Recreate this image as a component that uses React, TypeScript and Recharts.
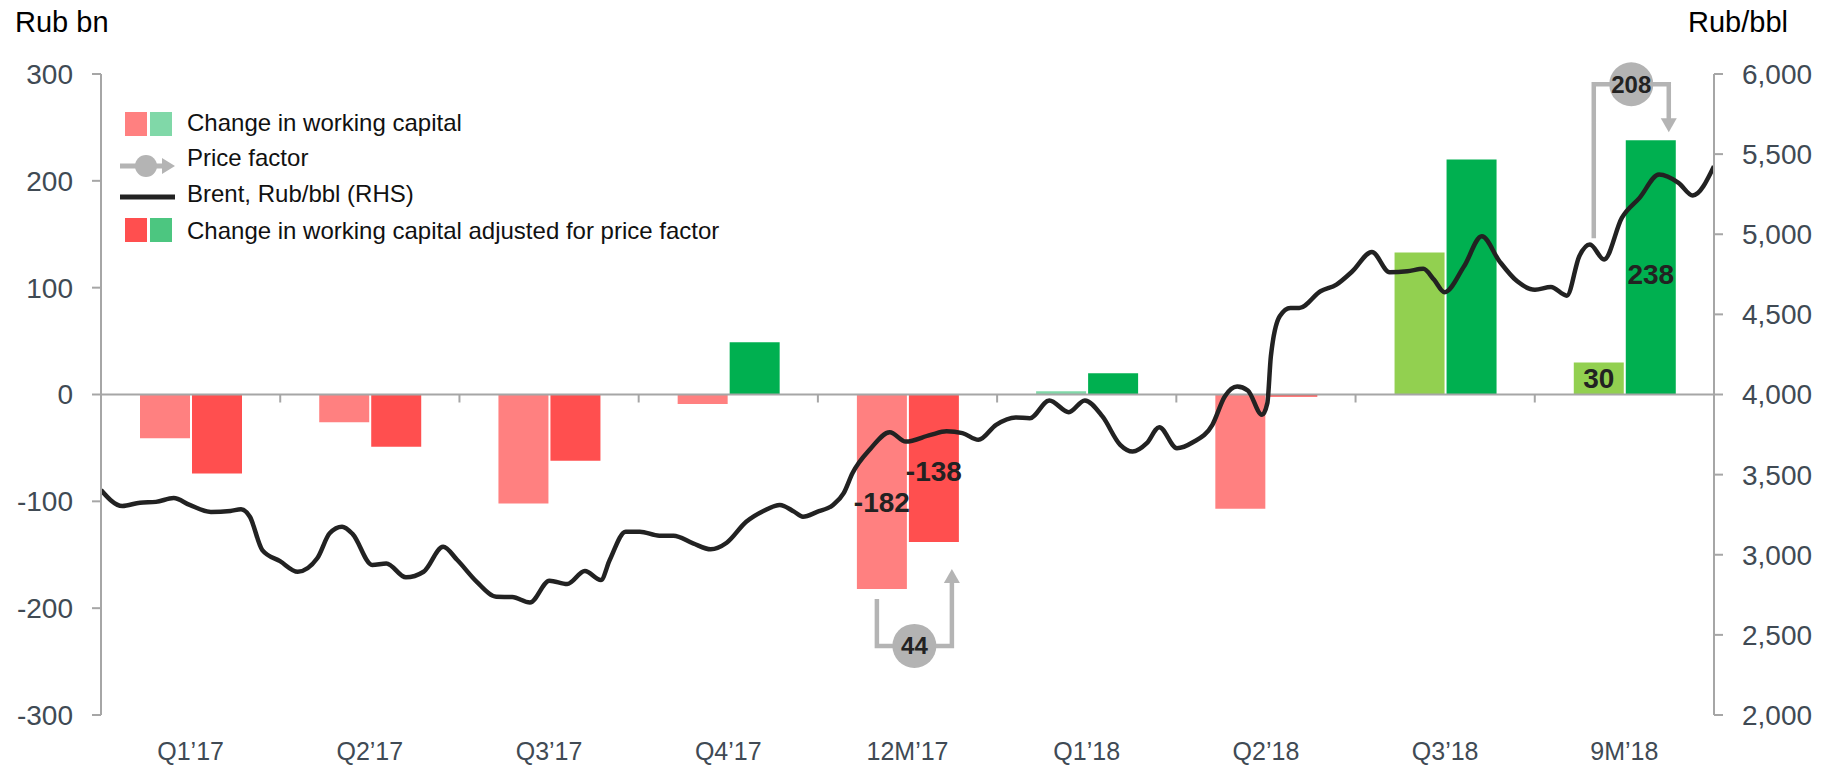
import React from 'react'
import {
  ComposedChart,
  Bar,
  Line,
  XAxis,
  YAxis,
  ReferenceLine,
  Cell,
  LabelList,
} from 'recharts'

// categories + bar series (Rub bn)
const categories = ['Q1’17', 'Q2’17', 'Q3’17', 'Q4’17', '12M’17', 'Q1’18', 'Q2’18', 'Q3’18', '9M’18']
const wcChange = [-41, -26, -102, -9, -182, 3, -107, 133, 30]
const wcAdjusted = [-74, -49, -62, 49, -138, 20, -2, 220, 238]
const priceFactor = [null, null, null, null, 44, null, null, null, 208]
const labelledCats = ['12M’17', '9M’18']

// Brent, Rub/bbl (RHS), week index from start of 2017
const brentWeeks = [
  0, 1.2, 2.2, 3.1, 4.1, 5.0, 6.2, 7.3, 7.9, 8.4,
  9.1, 10.1, 11.1, 12.2, 12.9, 13.6, 14.2, 15.3, 16.1, 17.2,
  18.2, 19.3, 20.1, 21.2, 22.3, 23.2, 24.2, 25.3, 26.3, 27.3,
  28.2, 28.7, 29.6, 30.4, 31.5, 32.3, 33.4, 34.4, 35.3, 36.4,
  37.4, 38.3, 39.1, 39.6, 40.4, 41.3, 41.9, 42.4, 43.4, 44.5,
  45.4, 46.8, 47.7, 48.6, 49.5, 50.5, 51.6, 52.4, 53.5, 54.6,
  55.5, 56.5, 57.5, 58.2, 59.0, 59.7, 60.7, 61.6, 62.7, 63.4,
  64.1, 64.7, 65.5, 65.8, 66.0, 66.5, 67.1, 67.6, 68.8, 69.7,
  70.6, 71.7, 72.7, 73.7, 74.6, 75.2, 75.8, 76.9, 77.9, 78.9,
  79.9, 80.9, 81.8, 82.7, 83.4, 84.0, 84.8, 85.8, 86.8, 87.9,
  89.0, 89.8, 91.0,
]
const brentPrices = [
  3404, 3304, 3325, 3330, 3354, 3311, 3267, 3273, 3284, 3237,
  3029, 2960, 2894, 2978, 3134, 3175, 3129, 2936, 2946, 2859,
  2894, 3050, 2967, 2831, 2738, 2736, 2702, 2838, 2817, 2898,
  2842, 2967, 3144, 3144, 3119, 3119, 3071, 3034, 3075, 3206,
  3275, 3311, 3269, 3237, 3267, 3311, 3384, 3510, 3660, 3765,
  3706, 3748, 3770, 3759, 3717, 3811, 3857, 3852, 3963, 3890,
  3963, 3863, 3686, 3644, 3696, 3796, 3665, 3702, 3811, 3988,
  4050, 4025, 3873, 3946, 4238, 4488, 4540, 4540, 4644, 4686,
  4769, 4890, 4763, 4769, 4784, 4717, 4638, 4800, 4988, 4831,
  4706, 4654, 4671, 4617, 4863, 4936, 4842, 5102, 5227, 5373,
  5321, 5242, 5425,
]

const leftTicks = [-300, -200, -100, 0, 100, 200, 300]
const rightTicks = [2000, 2500, 3000, 3500, 4000, 4500, 5000, 5500, 6000]

// colours per category
const changeFill = ['#FF8080', '#FF8080', '#FF8080', '#FF8080', '#FF8080', '#80D8A8', '#FF8080', '#92D050', '#92D050']
const adjustedFill = ['#FF4F4F', '#FF4F4F', '#FF4F4F', '#00B050', '#FF4F4F', '#00B050', '#FF4F4F', '#00B050', '#00B050']

const FONT = '"Liberation Sans", Arial, Helvetica, sans-serif'
const TICK = '#404A54'
const AXIS = '#A6A6A6'
const ARROW = '#B4B4B4'
const DARK = '#222222'

function barBox(props: any) {
  const vb = props.viewBox && props.viewBox.width !== undefined ? props.viewBox : props
  const x = Number(vb.x)
  const y = Number(vb.y)
  const w = Number(vb.width)
  const h = Number(vb.height)
  return { x, w, cx: x + w / 2, top: Math.min(y, y + h), bottom: Math.max(y, y + h) }
}

function ChangeLabel(props: any) {
  const { index, value } = props
  if (!labelledCats.includes(categories[index])) return null
  const b = barBox(props)
  const mid = (b.top + b.bottom) / 2 + (value < 0 ? 11 : 0)
  return (
    <text x={b.cx} y={mid} textAnchor="middle" dominantBaseline="central"
      fontSize={28} fontWeight="bold" fill={DARK} fontFamily={FONT}>
      {value}
    </text>
  )
}

function AdjustedLabel(props: any) {
  const { index, value } = props
  if (!labelledCats.includes(categories[index])) return null
  const b = barBox(props)
  const pf = priceFactor[index]
  const left = b.x - 2 - b.w / 2 - 5
  const right = b.cx + 18
  const mid = (left + right) / 2
  let d = ''
  let head = ''
  let hy = 0
  if (value < 0) {
    const startY = b.bottom + 57
    hy = b.bottom + 104
    const tip = b.bottom + 27
    d = `M${left},${startY} V${hy} H${right} V${tip + 10}`
    head = `${right - 8},${tip + 14} ${right},${tip} ${right + 8},${tip + 14}`
  } else {
    const startY = b.top + 98
    hy = b.top - 56
    const tip = b.top - 8
    d = `M${left},${startY} V${hy} H${right} V${tip - 10}`
    head = `${right - 8},${tip - 14} ${right},${tip} ${right + 8},${tip - 14}`
  }
  const labelY = (b.top + b.bottom) / 2 + (value < 0 ? 3 : 7)
  return (
    <g>
      <path d={d} stroke={ARROW} strokeWidth={4.5} fill="none" />
      <polygon points={head} fill={ARROW} />
      <circle cx={mid} cy={hy} r={22} fill="#B3B3B3" />
      <text x={mid} y={hy} textAnchor="middle" dominantBaseline="central"
        fontSize={24} fontWeight="bold" fill={DARK} fontFamily={FONT}>
        {pf}
      </text>
      <text x={b.cx} y={labelY} textAnchor="middle" dominantBaseline="central"
        fontSize={28} fontWeight="bold" fill={DARK} fontFamily={FONT}>
        {value}
      </text>
    </g>
  )
}

function ZeroLine(props: any) {
  const { x1, x2, y1 } = props
  const step = (x2 - x1) / categories.length
  return (
    <g>
      <line x1={x1} x2={x2} y1={y1} y2={y1} stroke={AXIS} strokeWidth={2} />
      {categories.slice(1).map((_, i) => (
        <line key={i} x1={x1 + step * (i + 1)} x2={x1 + step * (i + 1)} y1={y1} y2={y1 + 8}
          stroke={AXIS} strokeWidth={2} />
      ))}
    </g>
  )
}

export default function App() {
  const rows = categories.map((cat, i) => ({ cat, change: wcChange[i], adjusted: wcAdjusted[i] }))
  const brent = brentWeeks.map((week, i) => ({ week, price: brentPrices[i] }))

  return (
    <div style={{ position: 'absolute', left: 0, top: 0, width: 1833, height: 765, background: '#fff', fontFamily: FONT }}>
      <ComposedChart width={1833} height={765} data={rows}
        margin={{ top: 74, right: 0, bottom: 0, left: 0 }} barSize={50} barGap={2}>
        <XAxis xAxisId="cat" dataKey="cat" height={50} axisLine={false} tickLine={false}
          tickSize={0} tickMargin={27} interval={0}
          tick={{ fontSize: 25, fill: TICK, fontFamily: FONT }} />
        <XAxis xAxisId="week" type="number" dataKey="week" domain={[0, 91]} hide allowDataOverflow />
        <YAxis yAxisId="left" domain={[-300, 300]} ticks={leftTicks} width={101}
          tickSize={9} tickMargin={19} interval={0}
          axisLine={{ stroke: AXIS, strokeWidth: 2 }} tickLine={{ stroke: AXIS, strokeWidth: 2 }}
          tick={{ fontSize: 28, fill: TICK, fontFamily: FONT }} />
        <YAxis yAxisId="right" orientation="right" domain={[2000, 6000]} ticks={rightTicks} width={119}
          tickSize={9} tickMargin={19} interval={0}
          tickFormatter={(v: number) => v.toLocaleString('en-US')}
          axisLine={{ stroke: AXIS, strokeWidth: 2 }} tickLine={{ stroke: AXIS, strokeWidth: 2 }}
          tick={{ fontSize: 28, fill: TICK, fontFamily: FONT }} />
        <ReferenceLine xAxisId="cat" yAxisId="left" y={0} shape={ZeroLine} />
        <Bar xAxisId="cat" yAxisId="left" dataKey="change" isAnimationActive={false}>
          {rows.map((_, i) => (
            <Cell key={i} fill={changeFill[i]} />
          ))}
          <LabelList dataKey="change" content={ChangeLabel} />
        </Bar>
        <Bar xAxisId="cat" yAxisId="left" dataKey="adjusted" isAnimationActive={false}>
          {rows.map((_, i) => (
            <Cell key={i} fill={adjustedFill[i]} />
          ))}
          <LabelList dataKey="adjusted" content={AdjustedLabel} />
        </Bar>
        <Line xAxisId="week" yAxisId="right" data={brent} dataKey="price" type="monotone"
          dot={false} activeDot={false} stroke={DARK} strokeWidth={4.5} isAnimationActive={false} />
      </ComposedChart>

      <svg width={1833} height={765} style={{ position: 'absolute', left: 0, top: 0, pointerEvents: 'none' }}>
        <text x={15} y={32} fontSize={29} fill="#000" fontFamily={FONT}>Rub bn</text>
        <text x={1788} y={32} fontSize={29} fill="#000" fontFamily={FONT} textAnchor="end">Rub/bbl</text>

        <rect x={125} y={112} width={22} height={24} fill="#FF8080" />
        <rect x={150} y={112} width={22} height={24} fill="#80D8A8" />
        <text x={187} y={122} fontSize={24} fill="#111" fontFamily={FONT} dominantBaseline="central">
          Change in working capital
        </text>

        <line x1={120} x2={166} y1={166} y2={166} stroke={ARROW} strokeWidth={5} />
        <polygon points="162,158 175,166 162,174" fill={ARROW} />
        <circle cx={146} cy={166} r={11} fill={ARROW} />
        <text x={187} y={157} fontSize={24} fill="#111" fontFamily={FONT} dominantBaseline="central">
          Price factor
        </text>

        <line x1={120} x2={175} y1={197} y2={197} stroke={DARK} strokeWidth={5} />
        <text x={187} y={193} fontSize={24} fill="#111" fontFamily={FONT} dominantBaseline="central">
          Brent, Rub/bbl (RHS)
        </text>

        <rect x={125} y={218} width={22} height={24} fill="#FF4F4F" />
        <rect x={150} y={218} width={22} height={24} fill="#4CC680" />
        <text x={187} y={230} fontSize={24} fill="#111" fontFamily={FONT} dominantBaseline="central">
          Change in working capital adjusted for price factor
        </text>
      </svg>
    </div>
  )
}
